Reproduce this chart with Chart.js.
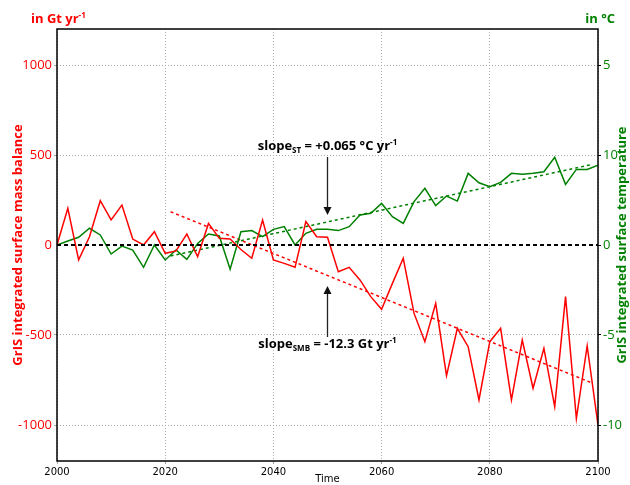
<!DOCTYPE html>
<html>
<head>
<meta charset="utf-8">
<script src="https://cdn.jsdelivr.net/npm/chart.js@4.4.1/dist/chart.umd.min.js"></script>
<style>
  html, body { margin: 0; padding: 0; background: #fff; }
  #wrap { width: 630px; height: 485px; position: relative; }
</style>
</head>
<body>
<div id="wrap"><canvas id="chart"></canvas></div>
<script>
// model years (2-yearly)
const years = [2000, 2002, 2004, 2006, 2008, 2010, 2012, 2014, 2016, 2018,
    2020, 2022, 2024, 2026, 2028, 2030, 2032, 2034, 2036, 2038,
    2040, 2042, 2044, 2046, 2048, 2050, 2052, 2054, 2056, 2058,
    2060, 2062, 2064, 2066, 2068, 2070, 2072, 2074, 2076, 2078,
    2080, 2082, 2084, 2086, 2088, 2090, 2092, 2094, 2096, 2098, 2100];

// surface mass balance, Gt/yr
const smb = [0, 204, -83, 46, 246, 139, 222, 33, 0, 74,
    -46, -33, 61, -65, 120, 37, 33, -25, -74, 139,
    -83, -102, -124, 130, 46, 43, -148, -124, -194, -287,
    -357, -213, -74, -380, -537, -324, -726, -463, -565, -861,
    -537, -463, -861, -528, -796, -574, -898, -287, -963, -561, -1000];

// surface temperature anomaly, degC
const temp = [0, 0.22, 0.43, 0.93, 0.56, -0.5, -0.06, -0.28, -1.24, 0,
    -0.83, -0.28, -0.8, 0.09, 0.61, 0.5, -1.35, 0.74, 0.8, 0.46,
    0.87, 1.02, 0, 0.65, 0.87, 0.87, 0.8, 1.02, 1.67, 1.76,
    2.31, 1.57, 1.2, 2.41, 3.15, 2.19, 2.72, 2.44, 3.98, 3.46,
    3.24, 3.48, 3.98, 3.93, 3.98, 4.07, 4.87, 3.37, 4.2, 4.2, 4.44];

// linear trends (end points)
const trendYears = [2021, 2099];
const smbTrend = [185, -768];
const tempTrend = [-0.61, 4.48];

// axes
const xTicks = [2000, 2020, 2040, 2060, 2080, 2100];
const smbTicks = [-1000, -500, 0, 500, 1000];
const tempTicks = [-10, -5, 0, 5, 10];
const tempTickLabels = ['-10', '-5', '0', '10', '5'];

const RED = '#ff0000';
const GREEN = '#008000';
const FONT = '"Open Sans", "DejaVu Sans", sans-serif';

const pts = (xs, ys) => xs.map((x, i) => ({ x: x, y: ys[i] }));

// draw text made of pieces (sub/superscripts)
function drawRich(ctx, parts, x, y, align) {
    let total = 0;
    parts.forEach(p => {
        ctx.font = `bold ${p.size}px ${FONT}`;
        p.w = ctx.measureText(p.t).width;
        total += p.w;
    });
    let cx = align === 'center' ? x - total / 2 : (align === 'right' ? x - total : x);
    ctx.textAlign = 'left';
    ctx.textBaseline = 'alphabetic';
    parts.forEach(p => {
        ctx.font = `bold ${p.size}px ${FONT}`;
        ctx.fillText(p.t, cx, y + (p.dy || 0));
        cx += p.w;
    });
}

function arrow(ctx, x, y1, y2) {
    // line from y1 to tip at y2
    const dir = y2 > y1 ? 1 : -1;
    ctx.strokeStyle = '#222';
    ctx.fillStyle = '#111';
    ctx.lineWidth = 1.3;
    ctx.beginPath();
    ctx.moveTo(x, y1);
    ctx.lineTo(x, y2 - dir * 6);
    ctx.stroke();
    ctx.beginPath();
    ctx.moveTo(x, y2);
    ctx.lineTo(x - 4, y2 - dir * 8);
    ctx.lineTo(x + 4, y2 - dir * 8);
    ctx.closePath();
    ctx.fill();
}

const decorPlugin = {
    id: 'decor',
    afterDatasetsDraw(chart) {
        const { ctx, chartArea: a, scales } = chart;
        const xs = scales.x, ys = scales.y;
        ctx.save();

        // zero line
        const y0 = ys.getPixelForValue(0);
        ctx.strokeStyle = '#000';
        ctx.lineWidth = 1.8;
        ctx.setLineDash([4, 3]);
        ctx.beginPath();
        ctx.moveTo(a.left, y0);
        ctx.lineTo(a.right, y0);
        ctx.stroke();
        ctx.setLineDash([]);

        // frame
        ctx.lineWidth = 1.5;
        ctx.strokeStyle = '#000';
        ctx.strokeRect(a.left, a.top, a.right - a.left, a.bottom - a.top);

        // slope annotations
        const ax = xs.getPixelForValue(2050);
        ctx.fillStyle = '#000';
        drawRich(ctx, [
            { t: 'slope', size: 13 },
            { t: 'ST', size: 8, dy: 3 },
            { t: ' = +0.065 °C yr', size: 13 },
            { t: '-1', size: 8, dy: -5 }
        ], ax, ys.getPixelForValue(528), 'center');
        arrow(ctx, ax, ys.getPixelForValue(489), ys.getPixelForValue(167));

        ctx.fillStyle = '#000';
        drawRich(ctx, [
            { t: 'slope', size: 13 },
            { t: 'SMB', size: 8, dy: 3 },
            { t: ' = -12.3 Gt yr', size: 13 },
            { t: '-1', size: 8, dy: -5 }
        ], ax, ys.getPixelForValue(-572), 'center');
        arrow(ctx, ax, ys.getPixelForValue(-511), ys.getPixelForValue(-228));

        // axis titles
        const midY = (a.top + a.bottom) / 2;
        ctx.font = `bold 13px ${FONT}`;
        ctx.textAlign = 'center';
        ctx.textBaseline = 'middle';
        ctx.fillStyle = RED;
        ctx.save();
        ctx.translate(18, midY);
        ctx.rotate(-Math.PI / 2);
        ctx.fillText('GrIS integrated surface mass balance', 0, 0);
        ctx.restore();
        ctx.fillStyle = GREEN;
        ctx.save();
        ctx.translate(622, midY);
        ctx.rotate(-Math.PI / 2);
        ctx.fillText('GrIS integrated surface temperature', 0, 0);
        ctx.restore();

        // units
        ctx.fillStyle = RED;
        drawRich(ctx, [
            { t: 'in Gt yr', size: 13 },
            { t: '-1', size: 8, dy: -5 }
        ], 31, 23, 'left');
        ctx.fillStyle = GREEN;
        drawRich(ctx, [{ t: 'in °C', size: 13 }], 615, 23, 'right');

        // x title
        ctx.fillStyle = '#000';
        ctx.font = '10px "DejaVu Sans", sans-serif';
        ctx.textAlign = 'center';
        ctx.textBaseline = 'middle';
        ctx.fillText('Time', (a.left + a.right) / 2, 479);

        ctx.restore();
    }
};

new Chart(document.getElementById('chart'), {
    type: 'line',
    data: {
        datasets: [
            {
                data: pts(years, smb),
                yAxisID: 'y',
                borderColor: RED,
                borderWidth: 1.5,
                pointRadius: 0,
                tension: 0
            },
            {
                data: pts(years, temp),
                yAxisID: 'y2',
                borderColor: GREEN,
                borderWidth: 1.5,
                pointRadius: 0,
                tension: 0
            },
            {
                data: pts(trendYears, smbTrend),
                yAxisID: 'y',
                borderColor: RED,
                borderWidth: 1.5,
                borderDash: [3, 3],
                pointRadius: 0
            },
            {
                data: pts(trendYears, tempTrend),
                yAxisID: 'y2',
                borderColor: GREEN,
                borderWidth: 1.5,
                borderDash: [3, 3],
                pointRadius: 0
            }
        ]
    },
    options: {
        responsive: true,
        maintainAspectRatio: false,
        animation: false,
        layout: { padding: { top: 29, left: 0, right: 0, bottom: 0 } },
        plugins: {
            legend: { display: false },
            tooltip: { enabled: false }
        },
        scales: {
            x: {
                type: 'linear',
                min: 2000,
                max: 2100,
                afterBuildTicks: (s) => { s.ticks = xTicks.map(v => ({ value: v })); },
                afterFit: (s) => { s.height = 24; },
                ticks: {
                    color: '#000',
                    font: { family: '"DejaVu Sans", sans-serif', size: 10 },
                    padding: 2,
                    maxRotation: 0,
                    callback: (v) => String(v)
                },
                grid: { color: '#aaa', tickLength: 3, lineWidth: 1 },
                border: { display: false, dash: [1, 2] }
            },
            y: {
                position: 'left',
                min: -1200,
                max: 1200,
                afterBuildTicks: (s) => { s.ticks = smbTicks.map(v => ({ value: v })); },
                afterFit: (s) => { s.width = 57; },
                ticks: {
                    color: RED,
                    font: { family: FONT, size: 13 },
                    padding: 2,
                    callback: (v) => String(v)
                },
                grid: {
                    color: (c) => c.tick && c.tick.value === 0 ? 'rgba(0,0,0,0)' : '#aaa',
                    tickLength: 3,
                    lineWidth: 1
                },
                border: { display: false, dash: [1, 2] }
            },
            y2: {
                position: 'right',
                min: -12,
                max: 12,
                afterBuildTicks: (s) => { s.ticks = tempTicks.map(v => ({ value: v })); },
                afterFit: (s) => { s.width = 32; },
                ticks: {
                    color: GREEN,
                    font: { family: FONT, size: 13 },
                    padding: 2,
                    callback: (v) => tempTickLabels[tempTicks.indexOf(v)]
                },
                grid: { drawOnChartArea: false, tickLength: 3, color: '#000' },
                border: { display: false }
            }
        }
    },
    plugins: [decorPlugin]
});
</script>
</body>
</html>
